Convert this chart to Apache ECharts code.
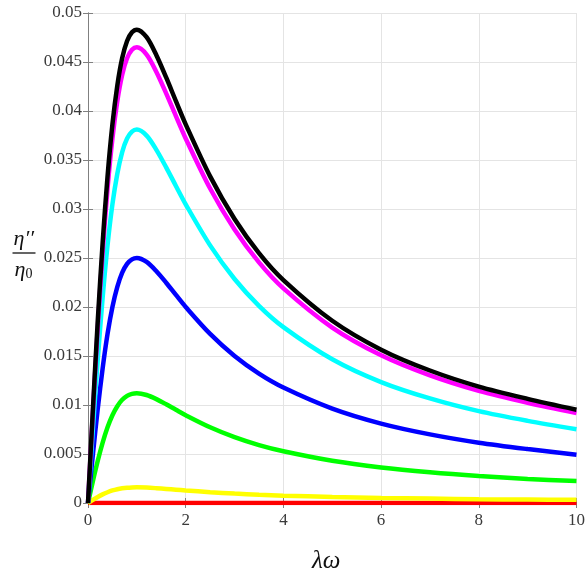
<!DOCTYPE html>
<html>
<head>
<meta charset="utf-8">
<script src="https://cdn.jsdelivr.net/npm/echarts@6/dist/echarts.min.js"></script>
<style>
  html, body { margin: 0; padding: 0; background: #fff; }
  #chart { width: 588px; height: 577px; }
</style>
</head>
<body>
<div id="chart"></div>
<script>
// Sample positions along λω
const lambdaOmega = [0, 0.1, 0.2, 0.3, 0.4, 0.5, 0.6, 0.7, 0.8, 0.9, 1.0, 1.2, 1.4, 1.6, 1.8, 2.0, 2.5, 3, 3.5, 4, 5, 6, 7, 8, 9, 10];

// Loss modulus ratio η''/η0 for each curve
const blackValues   = [0, 0.00956, 0.01860, 0.02657, 0.03333, 0.03864, 0.04260, 0.04540, 0.04714, 0.04803, 0.0483, 0.04753, 0.04569, 0.04342, 0.04101, 0.03864, 0.03333, 0.02898, 0.02550, 0.02275, 0.01860, 0.01565, 0.01352, 0.01188, 0.01063, 0.00952];
const magentaValues = [0, 0.00921, 0.01790, 0.02558, 0.03209, 0.03720, 0.04101, 0.04371, 0.04538, 0.04624, 0.0465, 0.04576, 0.04399, 0.04180, 0.03948, 0.03720, 0.03209, 0.02790, 0.02455, 0.02190, 0.01790, 0.01507, 0.01302, 0.01144, 0.01023, 0.00918];
const cyanValues    = [0, 0.00754, 0.01467, 0.02096, 0.02629, 0.03048, 0.03360, 0.03581, 0.03719, 0.03789, 0.0381, 0.03749, 0.03604, 0.03425, 0.03235, 0.03048, 0.02629, 0.02286, 0.02012, 0.01795, 0.01467, 0.01234, 0.01067, 0.00937, 0.00838, 0.00752];
const blueValues    = [0, 0.00495, 0.00963, 0.01375, 0.01725, 0.0200, 0.02205, 0.0235, 0.0244, 0.02486, 0.0250, 0.0246, 0.02365, 0.02248, 0.02123, 0.0200, 0.01725, 0.0150, 0.0132, 0.01178, 0.00963, 0.0081, 0.0070, 0.00615, 0.0055, 0.00493];
const greenValues   = [0, 0.00222, 0.00431, 0.00616, 0.00773, 0.00896, 0.00988, 0.01053, 0.01093, 0.01114, 0.0112, 0.01102, 0.01060, 0.01007, 0.00951, 0.00896, 0.00773, 0.00672, 0.00591, 0.00528, 0.00431, 0.00363, 0.00314, 0.00276, 0.00246, 0.00224];
const yellowValues  = [0, 0.00032, 0.00062, 0.00088, 0.0011, 0.00128, 0.00141, 0.0015, 0.00156, 0.00159, 0.0016, 0.00157, 0.00151, 0.00144, 0.00136, 0.00128, 0.0011, 0.00096, 0.00084, 0.00075, 0.00062, 0.00052, 0.00045, 0.00039, 0.00035, 0.00032];
const redValues     = [0, 0, 0, 0, 0, 0, 0, 0, 0, 0, 0, 0, 0, 0, 0, 0, 0, 0, 0, 0, 0, 0, 0, 0, 0, 0];

// Drawn bottom-up so the black curve sits on top
const curves = [
  { name: 'red',     color: '#ff0000', values: redValues },
  { name: 'yellow',  color: '#ffff00', values: yellowValues },
  { name: 'green',   color: '#00ff00', values: greenValues },
  { name: 'blue',    color: '#0000ff', values: blueValues },
  { name: 'cyan',    color: '#00ffff', values: cyanValues },
  { name: 'magenta', color: '#ff00ff', values: magentaValues },
  { name: 'black',   color: '#000000', values: blackValues }
];

const chart = echarts.init(document.getElementById('chart'), null, { renderer: 'canvas' });

const labelFont = { fontFamily: 'Liberation Serif', fontSize: 17, color: '#3a3a3a' };
const frame = { show: true, lineStyle: { color: '#808080', width: 1 } };
const innerTick = { show: true, inside: true, length: 5, lineStyle: { color: '#808080' } };

const option = {
  backgroundColor: '#fff',
  animation: false,
  grid: { left: 88, right: 8.5, top: 13, bottom: 74, containLabel: false },
  xAxis: [
    {
      type: 'value', min: 0, max: 10, interval: 2,
      axisLine: frame, axisTick: innerTick,
      axisLabel: Object.assign({ margin: 9, formatter: v => String(v) }, labelFont),
      splitLine: { show: true, lineStyle: { color: '#e4e4e4', width: 1 } }
    },
    {
      type: 'value', position: 'top', min: 0, max: 10, interval: 2,
      axisLine: frame, axisTick: innerTick, axisLabel: { show: false }, splitLine: { show: false }
    }
  ],
  yAxis: [
    {
      type: 'value', min: 0, max: 0.05, interval: 0.005,
      axisLine: frame, axisTick: innerTick,
      axisLabel: Object.assign({ margin: 6, formatter: v => String(+v.toFixed(3)) }, labelFont),
      splitLine: { show: true, lineStyle: { color: '#e4e4e4', width: 1 } }
    },
    {
      type: 'value', position: 'right', min: 0, max: 0.05, interval: 0.005,
      axisLine: frame, axisTick: innerTick, axisLabel: { show: false }, splitLine: { show: false }
    }
  ],
  series: curves.map(c => ({
    name: c.name,
    type: 'line',
    xAxisIndex: 0,
    yAxisIndex: 0,
    smooth: 0.3,
    showSymbol: false,
    data: lambdaOmega.map((x, i) => [x, c.values[i]]),
    lineStyle: { color: c.color, width: 4.5 },
    itemStyle: { color: c.color }
  })),
  graphic: [
    {
      type: 'text', left: 312, top: 549,
      style: { text: 'λω', font: 'italic 25px "Liberation Serif"', fill: '#111' }
    },
    {
      type: 'group', left: 10, top: 228,
      children: [
        { type: 'text', x: 2, y: 0, style: { text: 'η′′', font: 'italic 22px "Liberation Serif"', fill: '#111' } },
        { type: 'line', shape: { x1: 1, y1: 25, x2: 24, y2: 25 }, style: { stroke: '#111', lineWidth: 1.3 } },
        { type: 'text', x: 3, y: 31, style: { text: 'η', font: 'italic 22px "Liberation Serif"', fill: '#111' } },
        { type: 'text', x: 14, y: 39, style: { text: '0', font: '14px "Liberation Serif"', fill: '#111' } }
      ]
    }
  ]
};

chart.setOption(option);
</script>
</body>
</html>
